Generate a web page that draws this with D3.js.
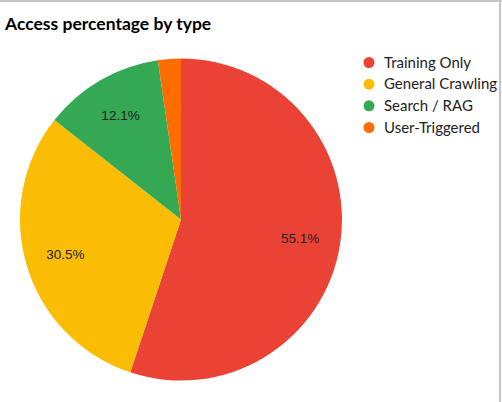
<!DOCTYPE html>
<html>
<head>
<meta charset="utf-8">
<script src="https://cdn.jsdelivr.net/npm/d3@7"></script>
<style>
  html, body { margin: 0; padding: 0; background: #fff; }
  .title { font-family: Lato, "Open Sans", sans-serif; font-weight: bold; font-size: 17.5px; fill: #000; }
  .legend text { font-family: Lato, "Open Sans", sans-serif; font-size: 15px; fill: #222; }
  .slice-label { font-family: "Liberation Sans", Arial, sans-serif; font-size: 13.5px; fill: #222; }
</style>
</head>
<body>
<div id="chart"></div>
<script>
const width = 502;
const height = 402;

const categories = ['Training Only', 'General Crawling', 'Search / RAG', 'User-Triggered'];
const shares = [55.1, 30.5, 12.1, 2.3];
const colors = ['#EA4335', '#FBBC04', '#34A853', '#FF6D01'];

const center = {x: 181, y: 219.5};
const radius = 161;

let svg = d3.select('#chart')
            .append('svg')
            .attr('width', width)
            .attr('height', height);

// grey frame at top and right edge
svg.append('rect')
   .attr('x', 0).attr('y', 0)
   .attr('width', width).attr('height', 2)
   .attr('fill', '#c6c6c6');
svg.append('rect')
   .attr('x', 499).attr('y', 0)
   .attr('width', 2).attr('height', height)
   .attr('fill', '#c6c6c6');

svg.append('text')
   .attr('class', 'title')
   .attr('x', 5)
   .attr('y', 30)
   .text('Access percentage by type');

let pie = d3.pie().sort(null).value((d) => d);
let arcs = pie(shares);

let arc = d3.arc().innerRadius(0).outerRadius(radius);
let labelArc = d3.arc().innerRadius(radius * 0.75).outerRadius(radius * 0.75);

let g = svg.append('g')
           .attr('transform', `translate(${center.x},${center.y})`);

g.selectAll('path')
 .data(arcs)
 .enter()
 .append('path')
 .attr('d', arc)
 .attr('fill', (d, i) => colors[i]);

// only label slices big enough to hold text
g.selectAll('text')
 .data(arcs.filter((d) => d.data > 5))
 .enter()
 .append('text')
 .attr('class', 'slice-label')
 .attr('text-anchor', 'middle')
 .attr('dy', '0.35em')
 .attr('transform', (d) => `translate(${labelArc.centroid(d)})`)
 .text((d) => d.data.toFixed(1) + '%');

let legendY = d3.scalePoint()
                .domain(categories)
                .range([62.5, 127.5]);

let legend = svg.append('g').attr('class', 'legend');
let rows = legend.selectAll('g')
                 .data(categories)
                 .enter()
                 .append('g')
                 .attr('transform', (d) => `translate(369,${legendY(d)})`);

rows.append('circle')
    .attr('r', 5.5)
    .attr('fill', (d, i) => colors[i]);

rows.append('text')
    .attr('x', 15)
    .attr('dy', '0.35em')
    .text((d) => d);
</script>
</body>
</html>
